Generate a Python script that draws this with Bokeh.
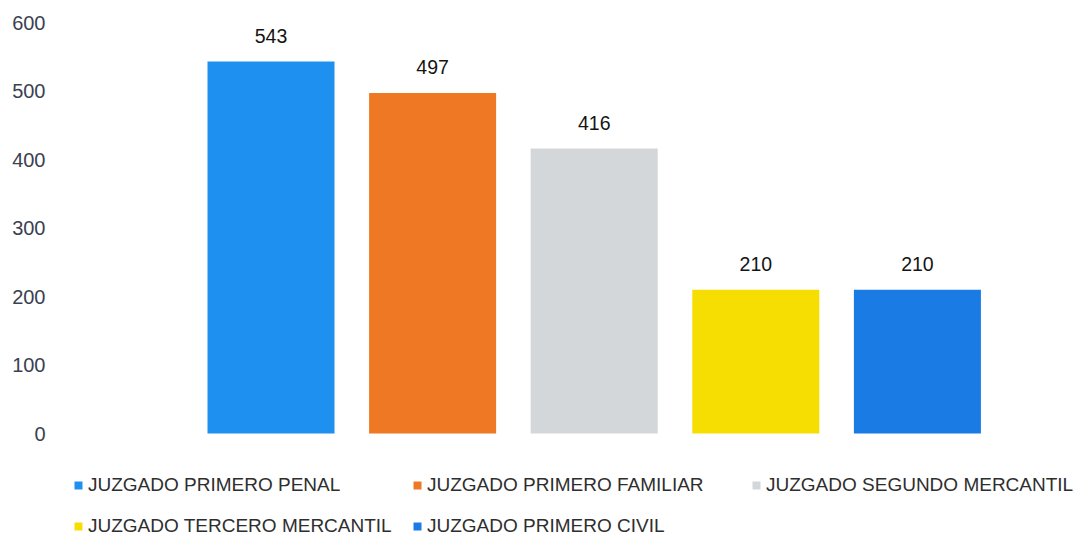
from bokeh.plotting import figure
from bokeh.models import ColumnDataSource, Range1d, FixedTicker, Legend, LegendItem
from bokeh.core.properties import value
from bokeh.embed import file_html
from bokeh.resources import INLINE

categories = ["JUZGADO PRIMERO PENAL", "JUZGADO PRIMERO FAMILIAR", "JUZGADO SEGUNDO MERCANTIL",
              "JUZGADO TERCERO MERCANTIL", "JUZGADO PRIMERO CIVIL"]
values = [543, 497, 416, 210, 210]
colors = ["#1E91F0", "#EE7824", "#D3D7D9", "#F7DE02", "#1A7BE5"]
y_ticks = [0, 100, 200, 300, 400, 500, 600]

FONT = "Liberation Sans"

src = ColumnDataSource(dict(
    x=list(range(len(categories))),
    top=values,
    color=colors,
    label=[str(v) for v in values],
    name=categories,
))

p = figure(width=1084, height=539, output_backend="svg", toolbar_location=None,
           x_range=Range1d(-1.3026, 5.034), y_range=Range1d(-154.7, 600),
           min_border_left=60, min_border_right=0, min_border_top=22, min_border_bottom=0)

r = p.vbar(x="x", top="top", bottom=0, width=0.786, fill_color="color", line_color=None, source=src)

p.text(x="x", y="top", text="label", source=src, text_align="center", text_baseline="middle",
       y_offset=-26, text_font=value(FONT), text_font_size="19.5px", text_color="#141414")

p.xaxis.visible = False
p.xgrid.visible = False
p.ygrid.visible = False
p.outline_line_color = None

ax = p.yaxis[0]
ax.ticker = FixedTicker(ticks=y_ticks)
ax.axis_line_color = None
ax.major_tick_line_color = None
ax.minor_tick_line_color = None
ax.major_tick_out = 0
ax.major_tick_in = 0
ax.major_label_standoff = 15
ax.major_label_text_font = FONT
ax.major_label_text_font_size = "20px"
ax.major_label_text_color = "#3a4150"

items = [LegendItem(label=categories[i], renderers=[r], index=i) for i in range(len(categories))]
legend = Legend(items=items, orientation="horizontal", ncols=3, location=(13, -5),
                padding=0, margin=0, spacing=4, glyph_width=10, glyph_height=10,
                label_height=37, label_width=320, label_standoff=5,
                label_text_font=FONT, label_text_font_size="19px", label_text_color="#2e2e2e",
                background_fill_alpha=0, border_line_color=None)
p.add_layout(legend, "center")

open("out.html", "w").write(file_html(p, INLINE))
